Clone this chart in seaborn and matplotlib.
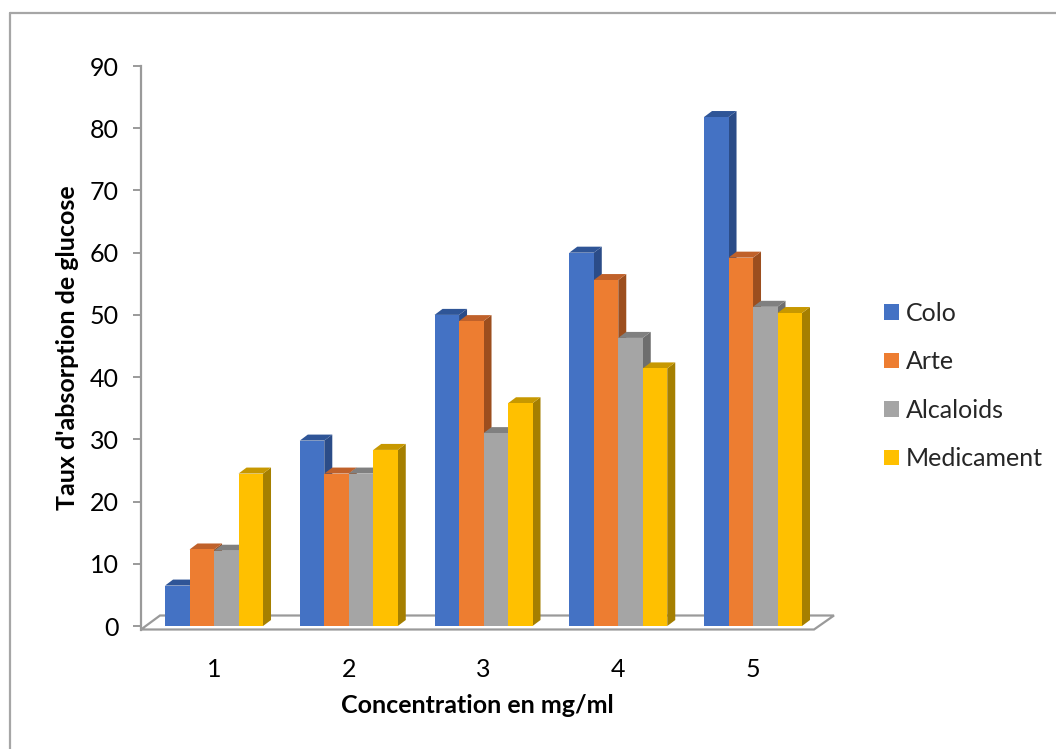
import numpy as np
import pandas as pd
import matplotlib
matplotlib.use("Agg")
import matplotlib.pyplot as plt
from matplotlib.patches import Polygon, Patch
from matplotlib.lines import Line2D
from matplotlib.colors import to_hex
import seaborn as sns

# ---- data -------------------------------------------------------------
concentrations = ["1", "2", "3", "4", "5"]
series_names = ["Colo", "Arte", "Alcaloids", "Medicament"]
colo = [6.5, 29.8, 50.0, 60.0, 81.8]
arte = [12.3, 24.5, 49.0, 55.6, 59.2]
alcaloids = [12.1, 24.5, 31.0, 46.3, 51.3]
medicament = [24.5, 28.3, 35.8, 41.4, 50.3]

front_colors = ["#4472C4", "#ED7D31", "#A5A5A5", "#FFC000"]
top_colors = ["#2F5597", "#C0612A", "#808080", "#C79800"]
side_colors = ["#2B4C88", "#9C4E1E", "#6E6E6E", "#A57F00"]

df = pd.DataFrame({
    "conc": np.tile(concentrations, 4),
    "serie": np.repeat(series_names, 5),
    "value": np.concatenate([colo, arte, alcaloids, medicament]),
})

# ---- figure -----------------------------------------------------------
sns.set_theme(style="white")
plt.rcParams["font.family"] = ["Lato", "DejaVu Sans"]

W, H = 1056, 749
fig = plt.figure(figsize=(W / 100, H / 100), dpi=100)
fig.patch.set_facecolor("white")

ax_left, ax_right = 141, 834
ax_top, ax_bottom = 66, 629.5
ax = fig.add_axes([ax_left / W, 1 - ax_bottom / H,
                   (ax_right - ax_left) / W, (ax_bottom - ax_top) / H])

group_width = 0.727
sns.barplot(data=df, x="conc", y="value", hue="serie", order=concentrations,
            hue_order=series_names, palette=front_colors, saturation=1,
            width=group_width, dodge=True, legend=False, ax=ax,
            linewidth=0)

xmin, xmax = -0.542, 4.601
ymin, ymax = -0.56, 90
ax.set_xlim(xmin, xmax)
ax.set_ylim(ymin, ymax)

px_x = (ax_right - ax_left) / (xmax - xmin)
px_y = (ax_bottom - ax_top) / (ymax - ymin)
ddx = 8 / px_x      # depth offset of the 3D faces
ddy = 6 / px_y

# ---- 3D faces for each column -----------------------------------------
color_index = {to_hex(c).lower(): i for i, c in enumerate(front_colors)}
bars = [p for p in ax.patches if p.get_height() > 0]
bars.sort(key=lambda p: p.get_x())
for rank, p in enumerate(bars):
    x0, w, h = p.get_x(), p.get_width(), p.get_height()
    k = color_index[to_hex(p.get_facecolor()).lower()]
    base = 3 + rank * 3
    side = Polygon([(x0 + w, 0), (x0 + w + ddx, ddy), (x0 + w + ddx, h + ddy),
                    (x0 + w, h)], closed=True, facecolor=side_colors[k],
                   edgecolor="none", zorder=base)
    top = Polygon([(x0, h), (x0 + w, h), (x0 + w + ddx, h + ddy),
                   (x0 + ddx, h + ddy)], closed=True, facecolor=top_colors[k],
                  edgecolor="none", zorder=base + 1)
    ax.add_patch(side)
    ax.add_patch(top)
    p.set_zorder(base + 2)

# ---- floor --------------------------------------------------------------
floor_back = ymin + 14 / px_y
front_right = 4 + (814 - 753) / px_x
back_left = xmin + 19 / px_x
floor = Polygon([(xmin, ymin), (front_right, ymin), (xmax, floor_back),
                 (back_left, floor_back)], closed=True, facecolor="white",
                edgecolor="#9A9A9A", linewidth=1.6, zorder=1, clip_on=False)
ax.add_patch(floor)

# ---- axes styling -------------------------------------------------------
for s in ["top", "right", "bottom"]:
    ax.spines[s].set_visible(False)
ax.spines["left"].set_color("#9A9A9A")
ax.spines["left"].set_linewidth(1.6)
ax.spines["left"].set_zorder(2)

ax.set_yticks(np.arange(0, 91, 10))
ax.tick_params(axis="y", left=True, length=6, width=1.4, color="#9A9A9A",
               pad=10, labelsize=18, labelcolor="black")
ax.tick_params(axis="x", bottom=False, length=0, pad=20.5, labelsize=18,
               labelcolor="black")
ax.grid(False)

ax.set_xlabel("Concentration en mg/ml", fontsize=18, fontweight="bold",
              color="black")
ax.set_ylabel("Taux d'absorption de glucose", fontsize=18, fontweight="bold",
              color="black")
ax.xaxis.set_label_coords((477 - ax_left) / (ax_right - ax_left),
                          (ax_bottom - 694) / (ax_bottom - ax_top))
ax.yaxis.set_label_coords((79 - ax_left) / (ax_right - ax_left), 0.5)

# ---- legend ------------------------------------------------------------
handles = [Patch(facecolor=c, edgecolor="none") for c in front_colors]
fig.legend(handles, series_names, loc="center left",
           bbox_to_anchor=(884 / W, 1 - 386 / H), frameon=False,
           fontsize=18, handlelength=0.6, handleheight=0.6,
           handletextpad=0.28, labelspacing=1.02, borderpad=0,
           borderaxespad=0)

# ---- chart area border (left and top edges) ----------------------------
border_kw = dict(color="#A6A6A6", linewidth=1.6, transform=fig.transFigure)
fig.add_artist(Line2D([10 / W, 10 / W], [1 - 13 / H, 0], **border_kw))
fig.add_artist(Line2D([10 / W, 1], [1 - 13 / H, 1 - 13 / H], **border_kw))

fig.savefig("out.png", dpi=100, facecolor="white")
